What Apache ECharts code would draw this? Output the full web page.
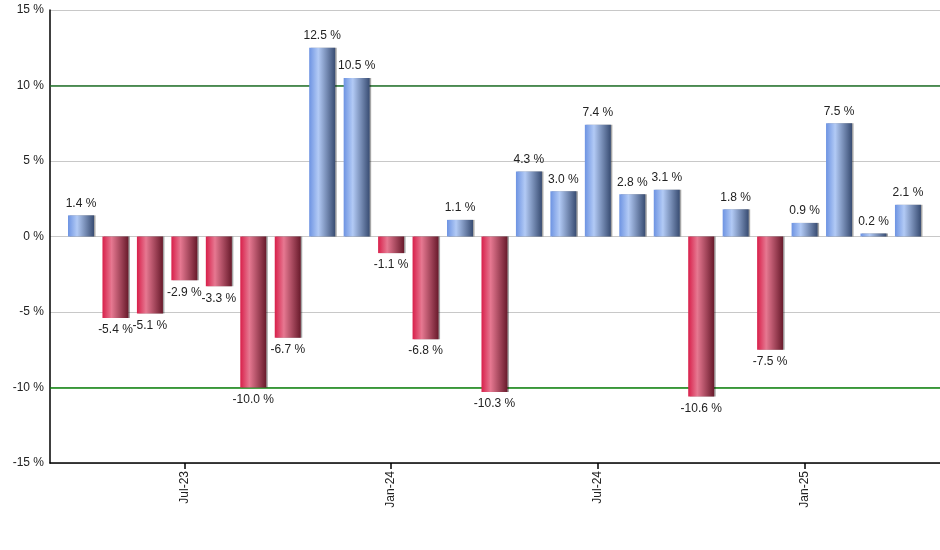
<!DOCTYPE html>
<html>
<head>
<meta charset="utf-8">
<script src="https://cdn.jsdelivr.net/npm/echarts@6/dist/echarts.min.js"></script>
<style>
  html, body { margin: 0; padding: 0; background: #fff; }
  #chart { width: 940px; height: 550px; }
</style>
</head>
<body>
<div id="chart"></div>
<script>
// monthly returns, Apr-23 .. Apr-25
var months = ['Apr-23', 'May-23', 'Jun-23', 'Jul-23', 'Aug-23', 'Sep-23', 'Oct-23', 'Nov-23', 'Dec-23',
    'Jan-24', 'Feb-24', 'Mar-24', 'Apr-24', 'May-24', 'Jun-24', 'Jul-24', 'Aug-24', 'Sep-24', 'Oct-24',
    'Nov-24', 'Dec-24', 'Jan-25', 'Feb-25', 'Mar-25', 'Apr-25'];
var returns = [1.4, -5.4, -5.1, -2.9, -3.3, -10.0, -6.7, 12.5, 10.5, -1.1, -6.8, 1.1, -10.3, 4.3, 3.0,
    7.4, 2.8, 3.1, -10.6, 1.8, -7.5, 0.9, 7.5, 0.2, 2.1];
var labelMonths = ['Jul-23', 'Jan-24', 'Jul-24', 'Jan-25'];
var limitLines = [10, -10];

var myChart = echarts.init(document.getElementById('chart'));

var blueFill = new echarts.graphic.LinearGradient(0, 0, 1, 0, [
    {offset: 0, color: '#6d93e2'},
    {offset: 0.35, color: '#b2caf5'},
    {offset: 1, color: '#384c72'}
]);
var redFill = new echarts.graphic.LinearGradient(0, 0, 1, 0, [
    {offset: 0, color: '#d81f4a'},
    {offset: 0.35, color: '#e67891'},
    {offset: 1, color: '#681a2b'}
]);

var barData = [];
for (var i = 0; i < returns.length; i++) {
    var v = returns[i];
    barData.push({
        value: [i, v],
        itemStyle: {color: v >= 0 ? blueFill : redFill},
        label: {position: v >= 0 ? 'top' : 'bottom'}
    });
}

var labelIdx = [];
for (var j = 0; j < labelMonths.length; j++) {
    labelIdx.push(months.indexOf(labelMonths[j]));
}

var option = {
    animation: false,
    grid: {left: 50, right: 0, top: 10, bottom: 87},
    xAxis: {
        type: 'value',
        min: -0.9,
        max: 24.93,
        splitLine: {show: false},
        axisLine: {show: true, onZero: false, lineStyle: {color: '#000', width: 1.5}},
        axisTick: {show: true, customValues: labelIdx, length: 6, lineStyle: {color: '#000', width: 1.5}},
        axisLabel: {
            customValues: labelIdx,
            rotate: 90,
            color: '#222',
            fontFamily: 'Liberation Sans, Arial, sans-serif',
            fontSize: 12,
            margin: 8,
            formatter: function (val) { return months[Math.round(val)]; }
        }
    },
    yAxis: {
        type: 'value',
        min: -15,
        max: 15,
        interval: 5,
        axisLine: {show: true, onZero: false, lineStyle: {color: '#000', width: 1.5}},
        axisTick: {show: false},
        axisLabel: {
            color: '#222',
            fontFamily: 'Liberation Sans, Arial, sans-serif',
            fontSize: 12,
            margin: 6,
            formatter: function (val) { return val + ' %'; }
        },
        splitLine: {show: true, lineStyle: {width: 1, color: '#c8c8c8'}}
    },
    series: [{
        type: 'bar',
        barWidth: 26,
        data: barData,
        z: 3,
        itemStyle: {
            shadowColor: 'rgba(0,0,0,0.35)',
            shadowOffsetX: 1.5,
            shadowBlur: 0
        },
        label: {
            show: true,
            color: '#222',
            fontFamily: 'Liberation Sans, Arial, sans-serif',
            fontSize: 12,
            distance: 6,
            formatter: function (p) { return p.value[1].toFixed(1) + ' %'; }
        },
        markLine: {
            silent: true,
            symbol: 'none',
            label: {show: false},
            z: 1,
            data: limitLines.map(function (y) {
                return {
                    yAxis: y,
                    lineStyle: {type: 'solid', width: 1.5, color: y > 0 ? '#22732a' : '#0b840b'}
                };
            })
        }
    }]
};

myChart.setOption(option);
</script>
</body>
</html>
